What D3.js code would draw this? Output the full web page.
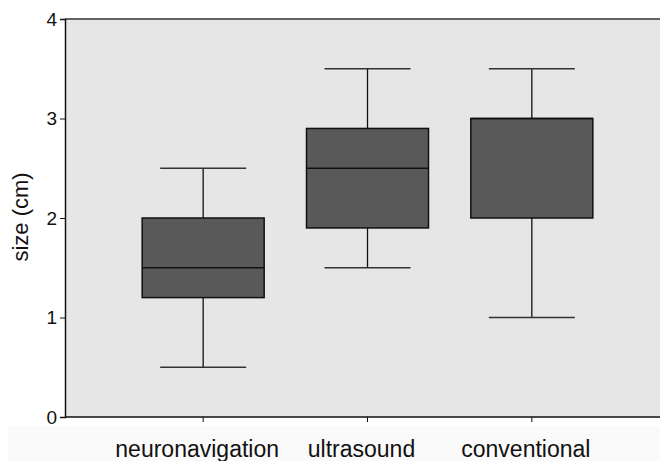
<!DOCTYPE html>
<html>
<head>
<meta charset="utf-8">
<script src="https://cdn.jsdelivr.net/npm/d3@7"></script>
<style>
  body { margin: 0; background: #fff; }
  text { font-family: "Liberation Sans", Arial, sans-serif; }
</style>
</head>
<body>
<svg id="chart" width="660" height="461"></svg>
<script>
// data
const groups = ["neuronavigation", "ultrasound", "conventional"];
const whiskerLow = [0.5, 1.5, 1.0];
const q1 = [1.2, 1.9, 2.0];
const median = [1.5, 2.5, 3.0];
const q3 = [2.0, 2.9, 3.0];
const whiskerHigh = [2.5, 3.5, 3.5];
const yTicks = [0, 1, 2, 3, 4];

const svg = d3.select("#chart");
const plotLeft = 65, plotRight = 660, plotTop = 19, plotBottom = 417;

// faint band under the axis
svg.append("rect")
  .attr("x", 8).attr("y", plotBottom + 9)
  .attr("width", 660 - 8).attr("height", 461 - plotBottom - 9)
  .attr("fill", "#fafafa");

const x = d3.scaleBand().domain(groups).range([121, 614]).padding(0);
const y = d3.scaleLinear().domain([0, 4]).range([plotBottom, plotTop]);

svg.append("rect")
  .attr("x", plotLeft).attr("y", plotTop)
  .attr("width", plotRight - plotLeft).attr("height", plotBottom - plotTop)
  .attr("fill", "#e6e6e6");

// top border
svg.append("line")
  .attr("x1", plotLeft).attr("x2", plotRight)
  .attr("y1", plotTop).attr("y2", plotTop)
  .attr("stroke", "#333").attr("stroke-width", 1.5);

const rows = groups.map((g, i) => ({
  g, lo: whiskerLow[i], q1: q1[i], med: median[i], q3: q3[i], hi: whiskerHigh[i]
}));

const boxW = 122, capW = 86;
const box = svg.selectAll("g.box")
  .data(rows)
  .enter()
  .append("g")
  .attr("class", "box")
  .attr("transform", d => `translate(${x(d.g) + x.bandwidth() / 2},0)`);

box.append("line")
  .attr("x1", 0).attr("x2", 0)
  .attr("y1", d => y(d.lo)).attr("y2", d => y(d.hi))
  .attr("stroke", "#111").attr("stroke-width", 1.3);

box.append("line")
  .attr("x1", -capW / 2).attr("x2", capW / 2)
  .attr("y1", d => y(d.lo)).attr("y2", d => y(d.lo))
  .attr("stroke", "#333").attr("stroke-width", 1.5);

box.append("line")
  .attr("x1", -capW / 2).attr("x2", capW / 2)
  .attr("y1", d => y(d.hi)).attr("y2", d => y(d.hi))
  .attr("stroke", "#333").attr("stroke-width", 1.5);

box.append("rect")
  .attr("x", -boxW / 2).attr("width", boxW)
  .attr("y", d => y(d.q3))
  .attr("height", d => y(d.q1) - y(d.q3))
  .attr("fill", "#595959")
  .attr("stroke", "#111").attr("stroke-width", 1.5);

box.append("line")
  .attr("x1", -boxW / 2).attr("x2", boxW / 2)
  .attr("y1", d => y(d.med)).attr("y2", d => y(d.med))
  .attr("stroke", "#111").attr("stroke-width", 1.5);

// y axis
const yAxis = svg.append("g")
  .attr("transform", `translate(${plotLeft},0)`)
  .call(d3.axisLeft(y).tickValues(yTicks).tickFormat(d3.format("d")).tickSize(5).tickPadding(3));
yAxis.select(".domain").attr("stroke", "#111").attr("stroke-width", 1.5);
yAxis.selectAll(".tick line").attr("stroke", "#111");
yAxis.selectAll("text").attr("font-size", 19).attr("fill", "#111")
  .attr("font-family", "Liberation Sans, Arial, sans-serif");

// x axis
const xAxis = svg.append("g")
  .attr("transform", `translate(0,${plotBottom})`)
  .call(d3.axisBottom(x).tickSize(5).tickPadding(19));
xAxis.select(".domain").remove();
xAxis.append("line")
  .attr("x1", plotLeft).attr("x2", plotRight)
  .attr("stroke", "#111").attr("stroke-width", 1.5);
xAxis.selectAll(".tick line").attr("stroke", "#111");
xAxis.selectAll("text").attr("font-size", 23).attr("fill", "#111")
  .attr("dx", -6)
  .attr("font-family", "Liberation Sans, Arial, sans-serif");

svg.append("text")
  .attr("transform", "translate(28,217) rotate(-90)")
  .attr("text-anchor", "middle")
  .attr("font-size", 22)
  .attr("fill", "#111")
  .text("size (cm)");
</script>
</body>
</html>
